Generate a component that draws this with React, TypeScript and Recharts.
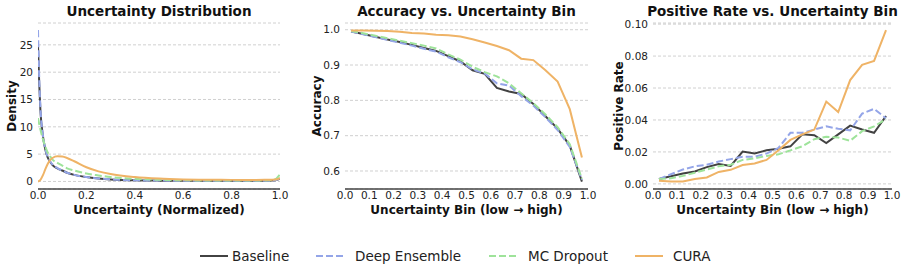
import React from 'react';
import { LineChart, Line, XAxis, YAxis, CartesianGrid } from 'recharts';

// ---- density panel (normalized uncertainty) ----
const densityX = [0, 0.005, 0.01, 0.02, 0.03, 0.04, 0.05, 0.06, 0.08, 0.1, 0.12, 0.15, 0.2, 0.25, 0.3, 0.4, 0.5, 0.6, 0.7, 0.8, 0.9, 0.95, 0.98, 1.0];
const densityBaseline = [25, 18, 13, 8.4, 5.9, 4.4, 3.6, 3.0, 2.4, 2.0, 1.6, 1.2, 0.8, 0.55, 0.38, 0.22, 0.15, 0.12, 0.11, 0.11, 0.11, 0.12, 0.2, 0.5];
const densityEnsemble = [27.7, 19, 13.5, 8.6, 6.0, 4.5, 3.7, 3.1, 2.45, 2.0, 1.6, 1.2, 0.8, 0.55, 0.38, 0.22, 0.16, 0.13, 0.12, 0.12, 0.12, 0.13, 0.2, 0.6];
const densityDropout = [11.6, 10.5, 9.5, 7.8, 6.4, 5.3, 4.6, 4.0, 3.4, 2.9, 2.4, 2.0, 1.45, 1.1, 0.8, 0.48, 0.3, 0.22, 0.18, 0.16, 0.16, 0.2, 0.4, 1.3];
const densityCura = [0, 0.1, 0.3, 1.1, 2.2, 3.2, 3.9, 4.3, 4.6, 4.55, 4.3, 3.7, 2.6, 1.85, 1.35, 0.8, 0.52, 0.38, 0.32, 0.29, 0.28, 0.3, 0.35, 0.6];

// ---- binned panels (20 bins) ----
const binCenters = [0.025, 0.075, 0.125, 0.175, 0.225, 0.275, 0.325, 0.375, 0.425, 0.475, 0.525, 0.575, 0.625, 0.675, 0.725, 0.775, 0.825, 0.875, 0.925, 0.975];

const accBaseline = [0.995, 0.988, 0.980, 0.972, 0.965, 0.957, 0.948, 0.940, 0.925, 0.910, 0.885, 0.875, 0.835, 0.825, 0.818, 0.790, 0.755, 0.720, 0.672, 0.570];
const accEnsemble = [0.995, 0.987, 0.979, 0.971, 0.963, 0.955, 0.946, 0.938, 0.922, 0.908, 0.888, 0.876, 0.848, 0.842, 0.812, 0.785, 0.752, 0.716, 0.668, 0.575];
const accDropout = [0.996, 0.990, 0.983, 0.976, 0.969, 0.962, 0.955, 0.947, 0.930, 0.915, 0.895, 0.880, 0.868, 0.848, 0.820, 0.792, 0.760, 0.724, 0.676, 0.578];
const accCura = [0.998, 0.998, 0.997, 0.996, 0.994, 0.991, 0.989, 0.986, 0.984, 0.981, 0.973, 0.964, 0.954, 0.942, 0.918, 0.914, 0.885, 0.853, 0.775, 0.638];

const posBaseline = [0.003, 0.0048, 0.0065, 0.0078, 0.0105, 0.0125, 0.0112, 0.0202, 0.019, 0.021, 0.022, 0.0235, 0.031, 0.0305, 0.0255, 0.031, 0.0365, 0.034, 0.032, 0.0425];
const posEnsemble = [0.003, 0.006, 0.009, 0.011, 0.012, 0.014, 0.0155, 0.017, 0.017, 0.019, 0.0225, 0.032, 0.032, 0.034, 0.036, 0.0345, 0.0335, 0.044, 0.047, 0.041];
const posDropout = [0.003, 0.0035, 0.005, 0.007, 0.009, 0.011, 0.012, 0.015, 0.016, 0.0175, 0.0185, 0.021, 0.0235, 0.028, 0.0295, 0.029, 0.027, 0.033, 0.036, 0.0405];
const posCura = [0.002, 0.0015, 0.0015, 0.003, 0.004, 0.0075, 0.0088, 0.0118, 0.0128, 0.015, 0.021, 0.0275, 0.031, 0.034, 0.0515, 0.045, 0.065, 0.0745, 0.077, 0.0963];

const densityTicksX = [0, 0.2, 0.4, 0.6, 0.8, 1.0];
const densityTicksY = [0, 5, 10, 15, 20, 25];
const binTicksX = [0, 0.1, 0.2, 0.3, 0.4, 0.5, 0.6, 0.7, 0.8, 0.9, 1.0];
const accTicksY = [0.6, 0.7, 0.8, 0.9, 1.0];
const posTicksY = [0, 0.02, 0.04, 0.06, 0.08, 0.1];

const FONT = '"DejaVu Sans", sans-serif';
const PLOT_TOP = 23;
const PLOT_BOTTOM = 189;
const RIGHT_PAD = 14;

const SERIES = [
  { key: 'baseline', name: 'Baseline', color: '#424242', dash: undefined as string | undefined },
  { key: 'ensemble', name: 'Deep Ensemble', color: '#94a5e8', dash: '7 3' },
  { key: 'dropout', name: 'MC Dropout', color: '#9ee39a', dash: '7 3' },
  { key: 'cura', name: 'CURA', color: '#efb366', dash: undefined },
];

function zipRows(xs: number[], a: number[], b: number[], c: number[], d: number[]) {
  return xs.map((x, i) => ({ x, baseline: a[i], ensemble: b[i], dropout: c[i], cura: d[i] }));
}

const densityRows = zipRows(densityX, densityBaseline, densityEnsemble, densityDropout, densityCura);
const accRows = zipRows(binCenters, accBaseline, accEnsemble, accDropout, accCura);
const posRows = zipRows(binCenters, posBaseline, posEnsemble, posDropout, posCura);

interface PanelProps {
  rows: Record<string, number>[];
  plotLeft: number;
  plotWidth: number;
  yWidth: number;
  yDomain: [number, number];
  yTicks: number[];
  xTicks: number[];
  yFmt: (v: number) => string;
  curve: 'monotone' | 'linear';
  title: string;
  xLabel: string;
  yLabel: string;
  yLabelX: number;
}

function Panel(p: PanelProps) {
  const chartLeft = p.plotLeft - p.yWidth;
  const chartW = p.yWidth + p.plotWidth + RIGHT_PAD;
  const xAxisH = 30;
  const chartH = PLOT_BOTTOM + xAxisH;
  const centerX = p.plotLeft + p.plotWidth / 2;
  return (
    <>
      <div style={{ position: 'absolute', left: chartLeft, top: 0 }}>
        <LineChart
          width={chartW}
          height={chartH}
          data={p.rows}
          margin={{ top: PLOT_TOP, right: RIGHT_PAD, left: 0, bottom: 0 }}
        >
          <CartesianGrid vertical={false} stroke="#c4c4c4" strokeDasharray="3 2" strokeWidth={0.8} />
          <XAxis
            dataKey="x"
            type="number"
            domain={[0, 1]}
            ticks={p.xTicks}
            tickFormatter={(v: number) => v.toFixed(1)}
            height={xAxisH}
            tickLine={false}
            tickSize={0}
            tickMargin={3}
            interval={0}
            axisLine={{ stroke: '#444444', strokeWidth: 1.6 }}
            tick={{ fill: '#222222', fontSize: 10.5, fontFamily: FONT }}
            allowDataOverflow
          />
          <YAxis
            type="number"
            domain={p.yDomain}
            ticks={p.yTicks}
            tickFormatter={p.yFmt}
            width={p.yWidth}
            axisLine={false}
            tickLine={false}
            tickSize={0}
            tickMargin={5}
            interval={0}
            tick={{ fill: '#222222', fontSize: 10.5, fontFamily: FONT }}
            allowDataOverflow
          />
          {SERIES.map((s) => (
            <Line
              key={s.key}
              type={p.curve}
              dataKey={s.key}
              stroke={s.color}
              strokeWidth={2}
              strokeDasharray={s.dash}
              dot={false}
              isAnimationActive={false}
            />
          ))}
        </LineChart>
      </div>
      <div style={{ position: 'absolute', left: centerX - 150, width: 300, top: 3, textAlign: 'center', fontFamily: FONT, fontWeight: 'bold', fontSize: 13.5, color: '#111', whiteSpace: 'nowrap' }}>
        {p.title}
      </div>
      <div style={{ position: 'absolute', left: centerX - 150, width: 300, top: 203, textAlign: 'center', fontFamily: FONT, fontWeight: 'bold', fontSize: 12, color: '#111', whiteSpace: 'nowrap' }}>
        {p.xLabel}
      </div>
      <div style={{ position: 'absolute', left: p.yLabelX - 100, top: 106 - 8, width: 200, textAlign: 'center', transform: 'rotate(-90deg)', fontFamily: FONT, fontWeight: 'bold', fontSize: 12, color: '#111', whiteSpace: 'nowrap', lineHeight: '16px' }}>
        {p.yLabel}
      </div>
    </>
  );
}

function LegendRow() {
  const items = [
    { ...SERIES[0], lineX: 200, textX: 232 },
    { ...SERIES[1], lineX: 316, textX: 355 },
    { ...SERIES[2], lineX: 489, textX: 528 },
    { ...SERIES[3], lineX: 635, textX: 673 },
  ];
  return (
    <svg width={908} height={30} style={{ position: 'absolute', left: 0, top: 241 }}>
      {items.map((it) => (
        <g key={it.key}>
          <line x1={it.lineX} x2={it.lineX + 28} y1={15} y2={15} stroke={it.color} strokeWidth={2} strokeDasharray={it.dash} />
          <text x={it.textX} y={15} dy="0.35em" fontFamily={FONT} fontSize={13.5} fill="#222">{it.name}</text>
        </g>
      ))}
    </svg>
  );
}

export default function App() {
  return (
    <div style={{ position: 'absolute', left: 0, top: 0, width: 908, height: 270, background: '#fff', overflow: 'hidden' }}>
      <Panel
        rows={densityRows}
        plotLeft={38}
        plotWidth={242}
        yWidth={38}
        yDomain={[-1.38, 29.0]}
        yTicks={densityTicksY}
        xTicks={densityTicksX}
        yFmt={(v) => String(v)}
        curve="monotone"
        title="Uncertainty Distribution"
        xLabel="Uncertainty (Normalized)"
        yLabel="Density"
        yLabelX={12}
      />
      <Panel
        rows={accRows}
        plotLeft={345}
        plotWidth={243}
        yWidth={45}
        yDomain={[0.549, 1.019]}
        yTicks={accTicksY}
        xTicks={binTicksX}
        yFmt={(v) => v.toFixed(1)}
        curve="linear"
        title="Accuracy vs. Uncertainty Bin"
        xLabel="Uncertainty Bin (low → high)"
        yLabel="Accuracy"
        yLabelX={317}
      />
      <Panel
        rows={posRows}
        plotLeft={653}
        plotWidth={239}
        yWidth={50}
        yDomain={[-0.0032, 0.1007]}
        yTicks={posTicksY}
        xTicks={binTicksX}
        yFmt={(v) => v.toFixed(2)}
        curve="linear"
        title="Positive Rate vs. Uncertainty Bin"
        xLabel="Uncertainty Bin (low → high)"
        yLabel="Positive Rate"
        yLabelX={619}
      />
      <LegendRow />
    </div>
  );
}
